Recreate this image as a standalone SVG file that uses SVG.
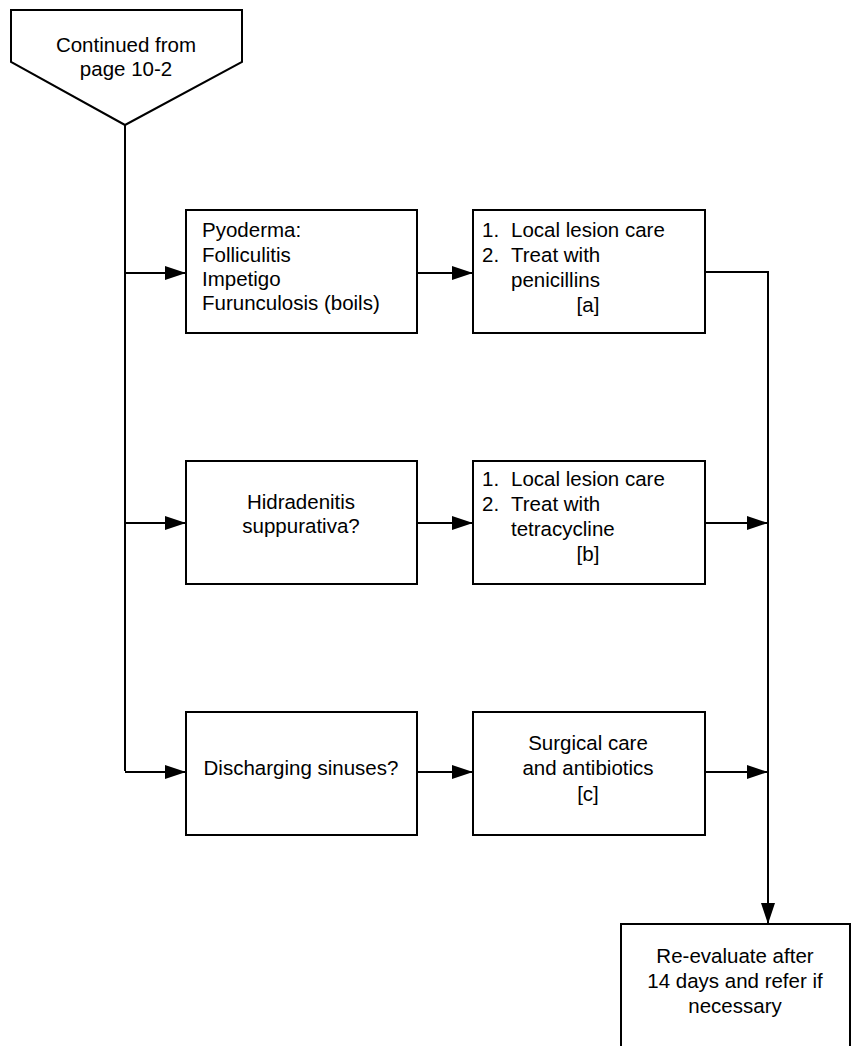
<svg xmlns="http://www.w3.org/2000/svg" width="853" height="1046" viewBox="0 0 853 1046">
<defs>
<style>
.box{fill:#fff;stroke:#000;stroke-width:2}
.ln{fill:none;stroke:#000;stroke-width:2}
text{font-family:"Liberation Sans",Arial,sans-serif;font-size:20.5px;fill:#000}
.c{text-anchor:middle}
</style>
<marker id="ah" viewBox="0 0 21 14" refX="21" refY="7" markerWidth="21" markerHeight="14" markerUnits="userSpaceOnUse" orient="auto">
<path d="M0,0 L21,7 L0,14 Z" fill="#000"/>
</marker>
</defs>
<rect width="853" height="1046" fill="#fff"/>
<g id="connectors">
<path class="ln" d="M125,125 V771"/>
<path class="ln" d="M125,273 H186" marker-end="url(#ah)"/>
<path class="ln" d="M125,523 H186" marker-end="url(#ah)"/>
<path class="ln" d="M125,772 H186" marker-end="url(#ah)"/>
<path class="ln" d="M417,273 H473" marker-end="url(#ah)"/>
<path class="ln" d="M417,523 H473" marker-end="url(#ah)"/>
<path class="ln" d="M417,772 H473" marker-end="url(#ah)"/>
<path class="ln" d="M705,272 H768 V924" marker-end="url(#ah)"/>
<path class="ln" d="M705,523 H768" marker-end="url(#ah)"/>
<path class="ln" d="M705,772 H768" marker-end="url(#ah)"/>
</g>
<g id="start">
<polygon class="box" points="11,10 242,10 242,62 125,125 11,62"/>
<text class="c" x="126" y="52">Continued from</text>
<text class="c" x="126" y="76">page 10-2</text>
</g>
<g id="pyoderma">
<rect class="box" x="186" y="210" width="231" height="123"/>
<text x="202" y="237">Pyoderma:</text>
<text x="202" y="262">Folliculitis</text>
<text x="202" y="286">Impetigo</text>
<text x="202" y="310">Furunculosis (boils)</text>
</g>
<g id="treat1">
<rect class="box" x="473" y="210" width="232" height="123"/>
<text x="482" y="237">1.</text><text x="511" y="237">Local lesion care</text>
<text x="482" y="262">2.</text><text x="511" y="262">Treat with</text>
<text x="511" y="287">penicillins</text>
<text class="c" x="588" y="312">[a]</text>
</g>
<g id="hidradenitis">
<rect class="box" x="186" y="461" width="231" height="123"/>
<text class="c" x="301" y="509">Hidradenitis</text>
<text class="c" x="301" y="533">suppurativa?</text>
</g>
<g id="treat2">
<rect class="box" x="473" y="461" width="232" height="123"/>
<text x="482" y="486">1.</text><text x="511" y="486">Local lesion care</text>
<text x="482" y="511">2.</text><text x="511" y="511">Treat with</text>
<text x="511" y="536">tetracycline</text>
<text class="c" x="588" y="561">[b]</text>
</g>
<g id="sinuses">
<rect class="box" x="186" y="712" width="231" height="123"/>
<text class="c" x="301" y="775">Discharging sinuses?</text>
</g>
<g id="treat3">
<rect class="box" x="473" y="712" width="232" height="123"/>
<text class="c" x="588" y="750">Surgical care</text>
<text class="c" x="588" y="775">and antibiotics</text>
<text class="c" x="588" y="801">[c]</text>
</g>
<g id="reevaluate">
<rect class="box" x="621" y="924" width="229" height="140"/>
<text class="c" x="735" y="963">Re-evaluate after</text>
<text class="c" x="735" y="988">14 days and refer if</text>
<text class="c" x="735" y="1013">necessary</text>
</g>
</svg>
